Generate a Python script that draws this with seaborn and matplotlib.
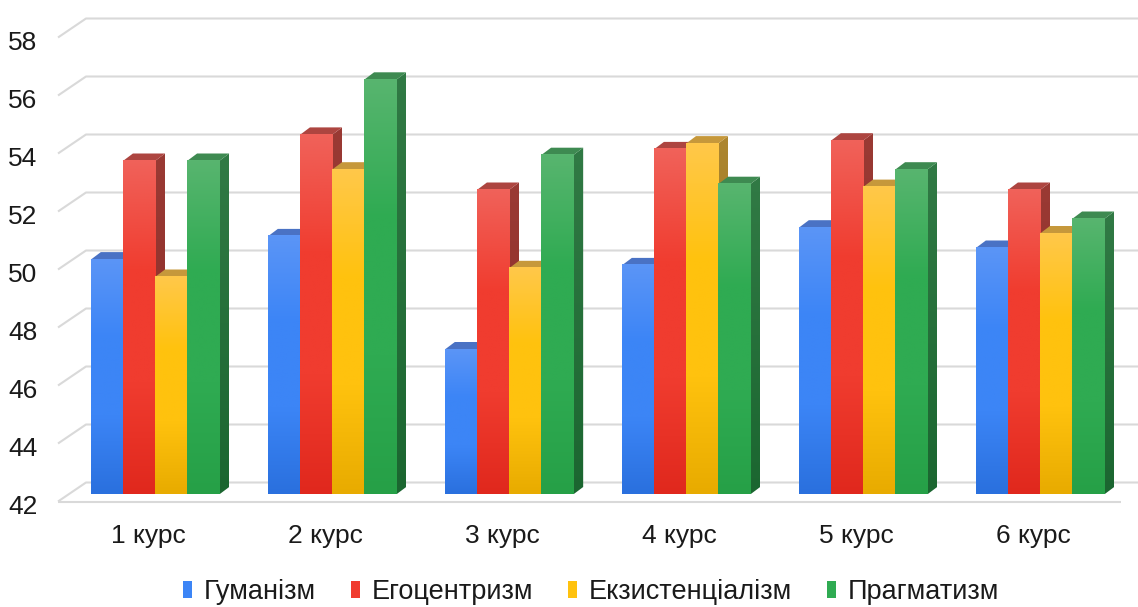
import numpy as np
import pandas as pd
import matplotlib
matplotlib.use("Agg")
import matplotlib.pyplot as plt
import seaborn as sns
from matplotlib.colors import to_rgb
from matplotlib.patches import Polygon, Rectangle
from matplotlib.lines import Line2D
from matplotlib.transforms import ScaledTranslation

# ---- data ----
courses = ["1 курс", "2 курс", "3 курс", "4 курс", "5 курс", "6 курс"]
series_names = ["Гуманізм", "Егоцентризм", "Екзистенціалізм", "Прагматизм"]
humanism = [50.1, 50.9, 47.0, 49.9, 51.2, 50.5]
egocentrism = [53.5, 54.4, 52.5, 53.9, 54.2, 52.5]
existentialism = [49.5, 53.2, 49.8, 54.1, 52.6, 51.0]
pragmatism = [53.5, 56.3, 53.7, 52.7, 53.2, 51.5]
y_ticks = [42, 44, 46, 48, 50, 52, 54, 56, 58]

# ---- styling ----
front_top = ["#5b95f7", "#f0625a", "#ffc84a", "#58b56f"]
front_mid = ["#3c85f6", "#f03c2f", "#ffc20e", "#2fab52"]
front_bot = ["#2a70de", "#e0281d", "#e8ab00", "#26a047"]
top_face = ["#4a72c4", "#ad4540", "#c6983b", "#3e8a51"]
side_top = ["#3563b8", "#9a3a34", "#ad8630", "#317a45"]
side_bot = ["#234f9c", "#8a2a25", "#957010", "#1b6630"]

sns.set_theme(style="white")
plt.rcParams["font.family"] = ["Liberation Sans", "DejaVu Sans"]

W_PX, H_PX = 1138, 607
fig = plt.figure(figsize=(W_PX / 100, H_PX / 100), dpi=100)
ax_left, ax_right, ax_top, ax_bottom = 66.5, 1128.5, 30.5, 494.5
ax = fig.add_axes([ax_left / W_PX, 1 - ax_bottom / H_PX,
                   (ax_right - ax_left) / W_PX, (ax_bottom - ax_top) / H_PX])

rows = []
for name, vals in zip(series_names, [humanism, egocentrism, existentialism, pragmatism]):
    for c, v in zip(courses, vals):
        rows.append({"course": c, "series": name, "value": v})
df = pd.DataFrame(rows)

sns.barplot(data=df, x="course", y="value", hue="series", order=courses,
            hue_order=series_names, palette=front_mid, width=0.725,
            saturation=1, errorbar=None, legend=False, ax=ax)

YMIN, YMAX = 42, 58
ax.set_xlim(-0.5, len(courses) - 0.5)
ax.set_ylim(YMIN, YMAX)

px_x = (ax_right - ax_left) / len(courses)
px_y = (ax_bottom - ax_top) / (YMAX - YMIN)
dx, dy = 10 / px_x, 7.5 / px_y


def gradient(stops, n=256):
    pos = np.linspace(0, 1, n)
    cols = np.array([to_rgb(c) for c in stops])
    keys = np.linspace(0, 1, len(stops))
    return np.stack([np.interp(pos, keys, cols[:, k]) for k in range(3)], axis=-1)[:, None, :]


# collect bars from the seaborn patches and redraw them as shaded blocks
bars = []
for p in ax.patches:
    x0, w, h = p.get_x(), p.get_width(), p.get_height()
    xc = x0 + w / 2
    grp = int(round(xc))
    idx = int(round((xc - grp) / w + 1.5))
    bars.append((x0, w, h, idx))
    p.set_visible(False)

bars.sort(key=lambda b: b[0])
for k, (x0, w, h, i) in enumerate(bars):
    z = 3 + k * 0.01
    x1 = x0 + w
    # side face
    side = Polygon([(x1, YMIN), (x1 + dx, YMIN + dy), (x1 + dx, h + dy), (x1, h)],
                   closed=True, transform=ax.transData, facecolor="none", edgecolor="none")
    ax.add_patch(side)
    im = ax.imshow(gradient([side_top[i], side_bot[i]]), extent=(x1, x1 + dx, YMIN, h + dy),
                   aspect="auto", origin="upper", zorder=z, interpolation="bilinear")
    im.set_clip_path(side)
    # top face
    ax.add_patch(Polygon([(x0, h), (x0 + dx, h + dy), (x1 + dx, h + dy), (x1, h)],
                         closed=True, facecolor=top_face[i], edgecolor="none",
                         zorder=z + 0.001, clip_on=False))
    # front face
    ax.imshow(gradient([front_top[i], front_mid[i], front_mid[i], front_bot[i]]),
              extent=(x0, x1, YMIN, h), aspect="auto", origin="upper",
              zorder=z + 0.002, interpolation="bilinear")

ax.set_xlim(-0.5, len(courses) - 0.5)
ax.set_ylim(YMIN, YMAX)

# back wall and floor gridlines
grid_kw = dict(color="#d9d9d9", lw=1.5, clip_on=False, zorder=1, solid_capstyle="butt")
fx, fy = -0.5 - 8.5 / px_x, 7 / px_y
bx, by = -0.5 + 19.5 / px_x, 12 / px_y
xend = len(courses) - 0.5 + 12 / px_x
for v in y_ticks:
    ax.add_line(Line2D([fx, bx, xend], [v - fy, v + by, v + by], **grid_kw))
ax.add_line(Line2D([fx, len(courses) - 0.5 - 8 / px_x], [YMIN - fy, YMIN - fy], **grid_kw))

for s in ax.spines.values():
    s.set_visible(False)
ax.grid(False)

ax.set_yticks(y_ticks)
ax.set_yticklabels([str(v) for v in y_ticks])
ax.tick_params(axis="y", length=0, pad=21, labelsize=19, labelcolor="#1a1a1a")
ax.tick_params(axis="x", length=0, pad=21, labelsize=19, labelcolor="#1a1a1a")
ax.set_xlabel("")
ax.set_ylabel("")
for lab in ax.get_yticklabels():
    lab.set_transform(lab.get_transform() + ScaledTranslation(0, -0.105, fig.dpi_scale_trans))
for lab in ax.get_xticklabels():
    lab.set_transform(lab.get_transform() + ScaledTranslation(-0.07, 0, fig.dpi_scale_trans))

handles = [Rectangle((0, 0), 1, 1, facecolor=c, edgecolor="none") for c in front_mid]
fig.legend(handles, series_names, loc="center", bbox_to_anchor=(591 / W_PX, 1 - 592 / H_PX),
           ncol=4, frameon=False, fontsize=19.5, handlelength=0.33, handleheight=0.55,
           handletextpad=0.43, columnspacing=1.3, labelcolor="#1a1a1a")

fig.savefig("out.png", dpi=100)
